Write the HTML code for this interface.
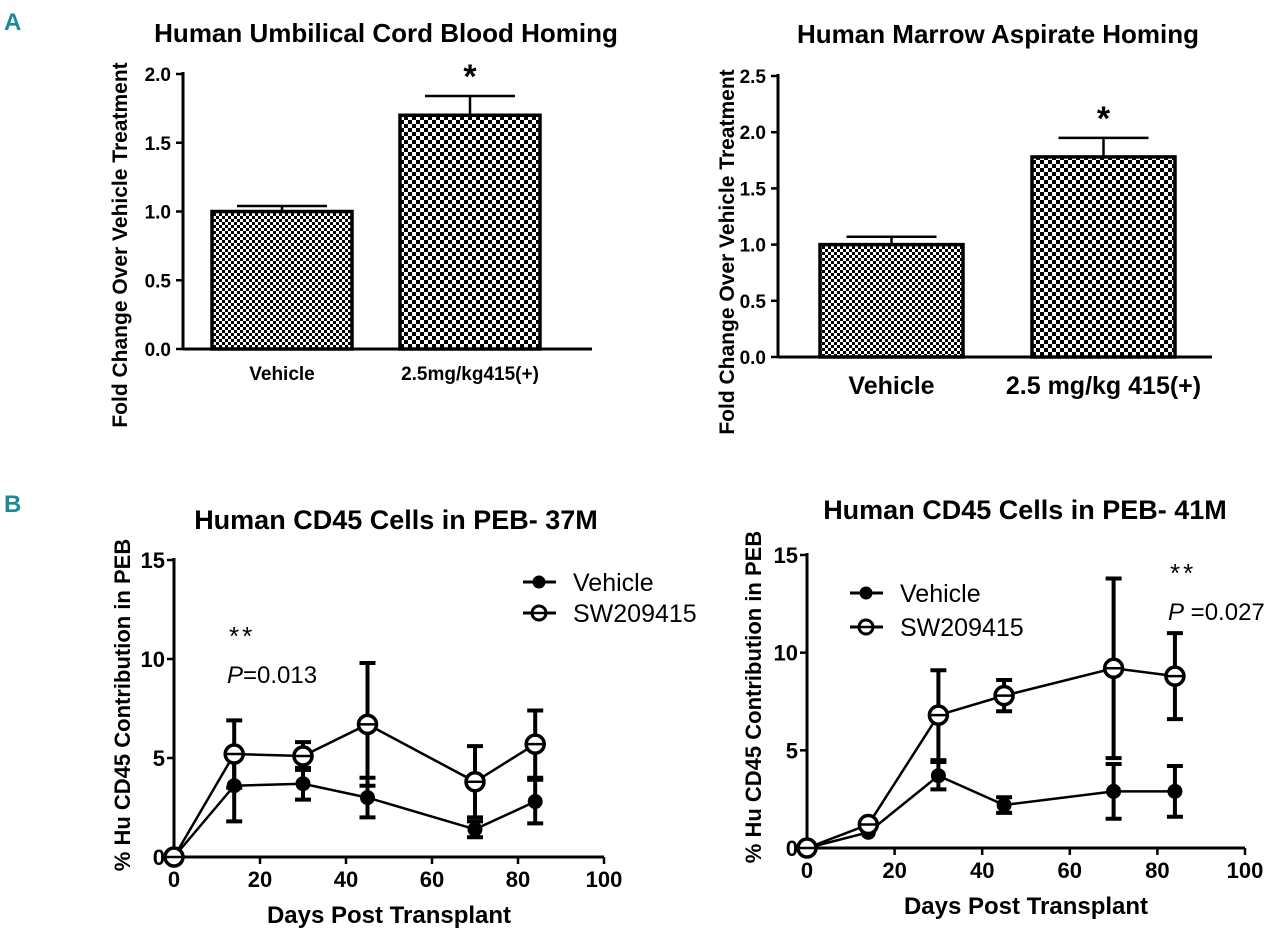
<!DOCTYPE html>
<html><head><meta charset="utf-8"><style>
html,body{margin:0;padding:0;background:#fff;}
svg{display:block;font-family:"Liberation Sans",sans-serif;}
</style></head><body>
<svg id="s" width="1280" height="937" viewBox="0 0 1280 937" xmlns="http://www.w3.org/2000/svg">
<defs>
<pattern id="chk" width="6" height="6" patternUnits="userSpaceOnUse"><rect width="6" height="6" fill="#fff"/><rect width="3" height="3" fill="#000"/><rect x="3" y="3" width="3" height="3" fill="#000"/></pattern>
<pattern id="chk2" width="8" height="8" patternUnits="userSpaceOnUse"><rect width="8" height="8" fill="#fff"/><rect width="4" height="4" fill="#000"/><rect x="4" y="4" width="4" height="4" fill="#000"/></pattern>
</defs>
<text x="4" y="30" font-size="24" font-weight="bold" fill="#1a8a9a">A</text>
<text x="4" y="512" font-size="24" font-weight="bold" fill="#1a8a9a">B</text>
</svg>
<script>
const barCatsA1=["Vehicle","2.5mg/kg415(+)"];
const barValsA1=[1.0,1.70];
const barErrA1=[0.04,0.14];
const barCatsA2=["Vehicle","2.5 mg/kg 415(+)"];
const barValsA2=[1.0,1.78];
const barErrA2=[0.07,0.17];
const ticksA1=[0,0.5,1.0,1.5,2.0];
const ticksA2=[0,0.5,1.0,1.5,2.0,2.5];
const days=[0,14,30,45,70,84];
const b1Veh=[0,3.6,3.7,3.0,1.4,2.8];
const b1VehErr=[0,1.8,0.8,1.0,0.4,1.1];
const b1SW=[0,5.2,5.1,6.7,3.8,5.7];
const b1SWErr=[0,1.7,0.7,3.1,1.8,1.7];
const b2Veh=[0,0.8,3.7,2.2,2.9,2.9];
const b2VehErr=[0,0,0.7,0.4,1.4,1.3];
const b2SW=[0,1.2,6.8,7.8,9.2,8.8];
const b2SWErr=[0,0,2.3,0.8,4.6,2.2];
const ticksBY=[0,5,10,15];
const ticksBX=[0,20,40,60,80,100];

const S=document.getElementById('s');
const NS="http://www.w3.org/2000/svg";
function mk(tag,a,txt){const e=document.createElementNS(NS,tag);for(const k in a)e.setAttribute(k,a[k]);if(txt!==undefined)e.textContent=txt;S.appendChild(e);return e;}

function barChart(o){
  const y=v=>o.y0-(v/o.ymax)*(o.y0-o.ytop);
  let e=mk('text',{x:o.tx,y:o.ty,'font-size':o.tfs,'font-weight':'bold','text-anchor':'middle'},o.title);
  
  
  e=mk('line',{x1:o.ax,y1:o.ytop-2,x2:o.ax,y2:o.y0,stroke:'#000','stroke-width':3});
  
  
  e=mk('line',{x1:o.ax,y1:o.y0,x2:o.xend,y2:o.y0,stroke:'#000','stroke-width':3});
  
  
  o.ticks.forEach(t=>{
    e=mk('line',{x1:o.ax-7,y1:y(t),x2:o.ax,y2:y(t),stroke:'#000','stroke-width':2.5});
    
    
    e=mk('text',{x:o.ax-12,y:y(t)+7,'font-size':19,'font-weight':'bold','text-anchor':'end'},t.toFixed(1));
    
    
  });
  o.vals.forEach((v,i)=>{
    const bx=o.bx[i],bw=o.bw;
    e=mk('rect',{x:bx,y:y(v),width:bw,height:o.y0-y(v),fill:i?'url(#chk2)':'url(#chk)',stroke:'#000','stroke-width':3.5});
    
    
    const cx=bx+bw/2,ye=y(v+o.err[i]);
    e=mk('path',{d:`M${cx},${y(v)}V${ye}M${cx-45},${ye}H${cx+45}`,stroke:'#000','stroke-width':2.5,fill:'none'});
    
    
    e=mk('text',{x:cx,y:o.ly,'font-size':o.lfs,'font-weight':'bold','text-anchor':'middle'},o.cats[i]);
    
    
  });
  e=mk('text',{x:o.bx[1]+o.bw/2,y:y(o.vals[1]+o.err[1])-8,'font-size':34,'font-weight':'bold','text-anchor':'middle'},'*');
  
  
  e=mk('text',{x:0,y:0,'font-size':21,'font-weight':'bold','text-anchor':'middle',transform:`translate(${o.ytx},${o.ytc}) rotate(-90)`},'Fold Change Over Vehicle Treatment');
  
  
}
barChart({title:'Human Umbilical Cord  Blood Homing',tx:386,ty:42,tfs:26,ax:183,y0:349,ytop:74,ymax:2.0,xend:592,ticks:ticksA1,vals:barValsA1,err:barErrA1,cats:barCatsA1,bx:[212,400],bw:140,ly:380,lfs:19,ytx:127,ytc:245});
barChart({title:'Human  Marrow Aspirate Homing',tx:998,ty:43,tfs:26,ax:778,y0:357,ytop:76,ymax:2.5,xend:1212,ticks:ticksA2,vals:barValsA2,err:barErrA2,cats:barCatsA2,bx:[820,1032],bw:143,ly:394,lfs:25,ytx:734,ytc:252});

function lineChart(o){
  const X=d=>o.x0+d/100*(o.x100-o.x0);
  const Y=v=>o.y0-v/15*(o.y0-o.y15);
  let e=mk('text',{x:o.tx,y:o.ty,'font-size':27,'font-weight':'bold','text-anchor':'middle'},o.title);
  
  
  e=mk('line',{x1:o.x0,y1:o.y15-2,x2:o.x0,y2:o.y0,stroke:'#000','stroke-width':3});
  
  
  e=mk('line',{x1:o.x0,y1:o.y0,x2:o.x100,y2:o.y0,stroke:'#000','stroke-width':3});
  
  
  ticksBY.forEach(t=>{
    e=mk('line',{x1:o.x0-7,y1:Y(t),x2:o.x0,y2:Y(t),stroke:'#000','stroke-width':2.5});
    
    
    e=mk('text',{x:o.x0-9,y:Y(t)+8,'font-size':22,'font-weight':'bold','text-anchor':'end'},String(t));
    
    
  });
  ticksBX.forEach(t=>{
    e=mk('line',{x1:X(t),y1:o.y0,x2:X(t),y2:o.y0+7,stroke:'#000','stroke-width':2.5});
    
    
    e=mk('text',{x:X(t),y:o.y0+30,'font-size':22,'font-weight':'bold','text-anchor':'middle'},String(t));
    
    
  });
  e=mk('text',{x:(o.x0+o.x100)/2,y:o.y0+66,'font-size':24,'font-weight':'bold','text-anchor':'middle'},'Days Post Transplant');
  
  
  e=mk('text',{x:0,y:0,'font-size':22,'font-weight':'bold','text-anchor':'middle',transform:`translate(${o.ytx},${o.ytc}) rotate(-90)`},'%  Hu CD45 Contribution in PEB');
  
  
  [[o.veh,o.vehE,'vehicle',true],[o.sw,o.swE,'sw209415',false]].forEach(([vals,errs,nm,filled])=>{
    e=mk('polyline',{points:days.map((d,i)=>X(d)+','+Y(vals[i])).join(' '),fill:'none',stroke:'#000','stroke-width':2.5});
    
    
    days.forEach((d,i)=>{
      if(errs[i]>0){
        const a=Y(vals[i]+errs[i]),b=Y(vals[i]-errs[i]),cx=X(d);
        e=mk('path',{d:`M${cx},${a}V${b}M${cx-8},${a}H${cx+8}M${cx-8},${b}H${cx+8}`,stroke:'#000','stroke-width':4,fill:'none'});
        
        
      }
      e=mk('circle',{cx:X(d),cy:Y(vals[i]),r:filled?7:9,fill:filled?'#000':'#fff',stroke:'#000','stroke-width':filled?1:3.5});
      
      
      if(!filled){e=mk('line',{x1:X(d)-8,y1:Y(vals[i]),x2:X(d)+8,y2:Y(vals[i]),stroke:'#000','stroke-width':2.5});
      
      }
    });
  });
  [['Vehicle',true,o.lg1],['SW209415',false,o.lg2]].forEach(([t,f,ly])=>{
    const g=mk('g',{});
    
    
    const l=mk('line',{x1:o.lx,y1:ly,x2:o.lx+33,y2:ly,stroke:'#000','stroke-width':3});g.appendChild(l);
    const c=mk('circle',{cx:o.lx+16,cy:ly,r:f?6:7,fill:f?'#000':'#fff',stroke:'#000','stroke-width':f?1:3});g.appendChild(c);
    if(!f){const l2=mk('line',{x1:o.lx+10,y1:ly,x2:o.lx+22,y2:ly,stroke:'#000','stroke-width':2.5});g.appendChild(l2);}
    const tx=mk('text',{x:o.lx+50,y:ly+9,'font-size':25},t);g.appendChild(tx);
  });
  e=mk('text',{x:o.ax,y:o.ay,'font-size':26,'letter-spacing':'3'},'**');
  
  
  e=mk('text',{x:o.ax-2,y:o.ay+38,'font-size':24},'');
  
  
  const ts=document.createElementNS(NS,'tspan');ts.setAttribute('font-style','italic');ts.textContent='P';e.appendChild(ts);
  e.appendChild(document.createTextNode(o.p));
}
lineChart({title:'Human CD45 Cells in PEB- 37M',tx:396,ty:529,x0:174,x100:604,y0:857,y15:560,veh:b1Veh,vehE:b1VehErr,sw:b1SW,swE:b1SWErr,ytx:130,ytc:705,lx:523,lg1:582,lg2:613,ax:229,ay:645,p:'=0.013'});
lineChart({title:'Human CD45 Cells in PEB- 41M',tx:1025,ty:519,x0:807,x100:1245,y0:848,y15:555,veh:b2Veh,vehE:b2VehErr,sw:b2SW,swE:b2SWErr,ytx:761,ytc:697,lx:850,lg1:593,lg2:627,ax:1170,ay:582,p:' =0.027'});
</script>
</body></html>
